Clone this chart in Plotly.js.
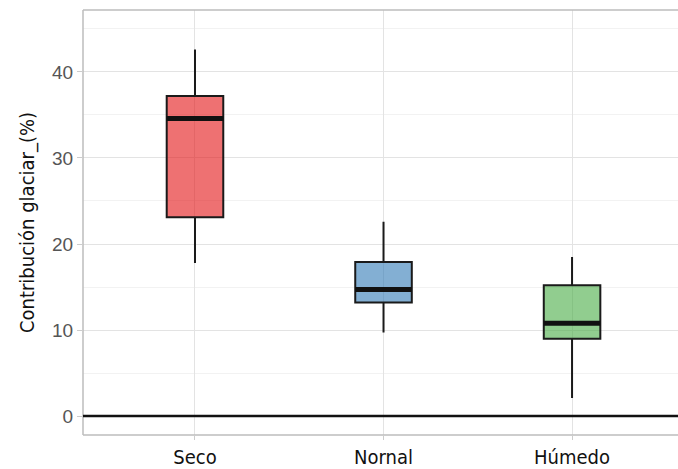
<!DOCTYPE html>
<html>
<head>
<meta charset="utf-8">
<script src="https://cdn.plot.ly/plotly-3.0.1.min.js"></script>
<style>html,body{margin:0;padding:0;background:#fff;}#chart{width:678px;height:469px;}</style>
</head>
<body>
<div id="chart"></div>
<script>
// Data
var categories = ["Seco", "Nornal", "Húmedo"];
var lowerWhisker = [17.8, 9.7, 2.1];
var q1 = [23.1, 13.2, 9.0];
var medians = [34.6, 14.7, 10.8];
var q3 = [37.2, 17.9, 15.2];
var upperWhisker = [42.6, 22.6, 18.5];
var fills = ["rgba(228,26,28,0.62)", "rgba(55,126,184,0.62)", "rgba(77,175,74,0.62)"];
var yTicks = [0, 10, 20, 30, 40];

var boxHalf = 0.15;
var traces = categories.map(function (c, i) {
  return {
    type: "box",
    x: [i],
    q1: [q1[i]], median: [medians[i]], q3: [q3[i]],
    lowerfence: [lowerWhisker[i]], upperfence: [upperWhisker[i]],
    width: boxHalf * 2,
    whiskerwidth: 0,
    fillcolor: fills[i],
    line: {color: "#1a1a1a", width: 2},
    hoverinfo: "skip",
    showlegend: false
  };
});
categories.forEach(function (c, i) {
  traces.push({
    type: "scatter", mode: "lines",
    x: [i - boxHalf, i + boxHalf], y: [medians[i], medians[i]],
    line: {color: "#111", width: 5},
    hoverinfo: "skip", showlegend: false
  });
});

var narrow = "Liberation Sans Narrow, Arial Narrow, DejaVu Sans Condensed, sans-serif";
var layout = {
  width: 678, height: 469,
  margin: {l: 83, r: 0, t: 10, b: 34},
  paper_bgcolor: "#fff", plot_bgcolor: "#fff",
  xaxis: {
    range: [-0.594, 2.562],
    tickvals: [0, 1, 2], ticktext: categories,
    showgrid: true, gridcolor: "#e3e3e3", gridwidth: 1,
    zeroline: false, showline: false,
    ticks: "outside", ticklen: 4, tickcolor: "#cccccc",
    tickfont: {family: narrow, size: 20, color: "#111"}
  },
  yaxis: {
    range: [-2.2, 47.2],
    tickvals: yTicks,
    showgrid: true, gridcolor: "#e3e3e3", gridwidth: 1,
    minor: {dtick: 5, tick0: 5, showgrid: true, gridcolor: "#f2f2f2", gridwidth: 1},
    zeroline: false, showline: false,
    ticks: "outside", ticklen: 5, tickcolor: "#cccccc",
    tickfont: {family: "Liberation Sans, Arial, sans-serif", size: 19, color: "#555"},
    title: {text: "Contribución glaciar_(%)", standoff: 12,
      font: {family: narrow, size: 20, color: "#111"}}
  },
  shapes: [
    {type: "line", xref: "paper", yref: "paper", x0: 0, x1: 0, y0: 0, y1: 1, line: {color: "#bdbdbd", width: 1.5}},
    {type: "line", xref: "paper", yref: "paper", x0: 0, x1: 1, y0: 1, y1: 1, line: {color: "#bdbdbd", width: 1.5}},
    {type: "line", xref: "paper", yref: "paper", x0: 0, x1: 1, y0: 0, y1: 0, line: {color: "#bdbdbd", width: 1.5}},
    {type: "line", xref: "paper", yref: "y", x0: 0, x1: 1, y0: 0, y1: 0, line: {color: "#111", width: 2.5}, layer: "above"}
  ]
};

Plotly.newPlot("chart", traces, layout, {staticPlot: true, displayModeBar: false});
</script>
</body>
</html>
